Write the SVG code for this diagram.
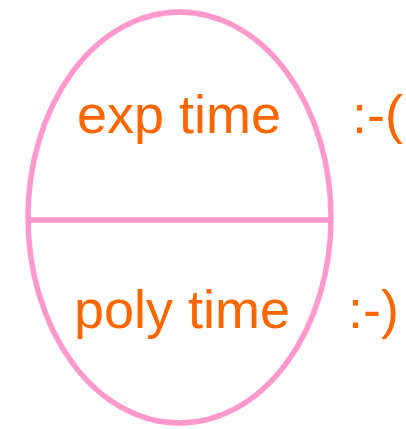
<svg xmlns="http://www.w3.org/2000/svg" width="406" height="429" viewBox="0 0 406 429">
<style>
.shape{fill:none;stroke:#FF99CC;stroke-width:5.5}
.t{font-family:"Liberation Sans",Arial,sans-serif;font-size:54px;fill:#FF6600}
</style>
<rect width="406" height="429" fill="#fff"/>
<g id="egg">
<ellipse class="shape" cx="179.5" cy="217.5" rx="151.5" ry="205.5"/>
<line class="shape" x1="28" y1="220" x2="331" y2="220"/>
</g>
<g id="exp">
<text class="t" x="77" y="132.5">exp time</text>
<text class="t" x="352" y="132.5">:-(</text>
</g>
<g id="poly">
<text class="t" x="74" y="327.5">poly time</text>
<text class="t" x="348" y="327.5">:-)</text>
</g>
</svg>
